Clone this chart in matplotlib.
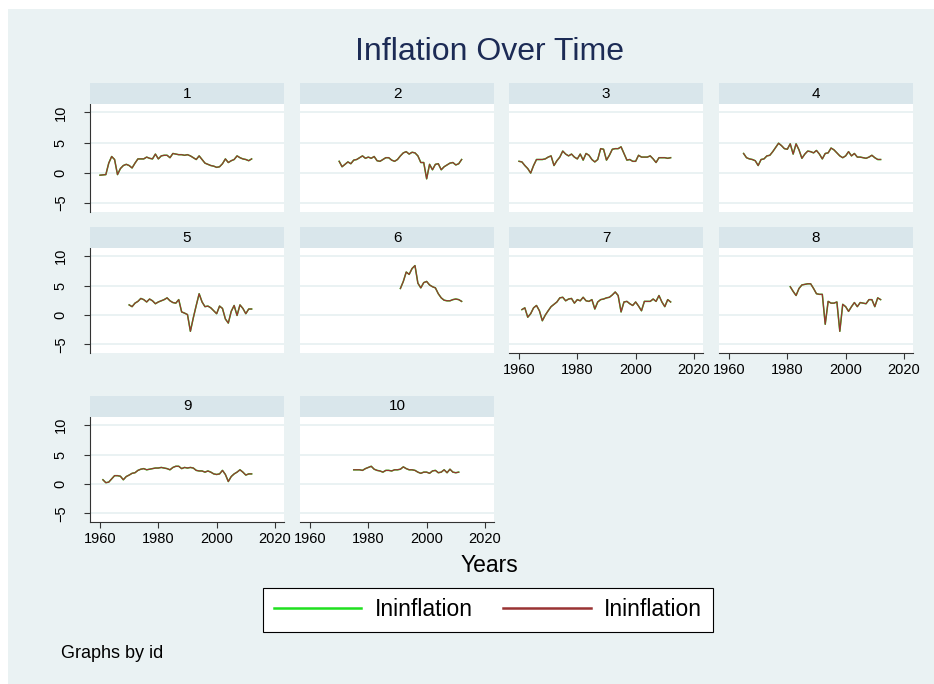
import numpy as np
import matplotlib.pyplot as plt
from matplotlib.patches import Rectangle
from matplotlib.lines import Line2D

plt.rcParams['font.family'] = ['Liberation Sans', 'DejaVu Sans']

# 每个 id 的起始年份（年份连续）
start_years = [1960, 1970, 1960, 1965, 1970, 1991, 1961, 1981, 1961, 1975]

infl_1 = [-0.4, -0.35, -0.3, 1.6, 2.7, 2.2, -0.3, 0.7, 1.2, 1.4,
          1.2, 0.8, 1.6, 2.3, 2.3, 2.3, 2.6, 2.4, 2.3, 3.1,
          2.3, 2.8, 2.9, 2.9, 2.5, 3.2, 3.1, 3.0, 3.0, 2.9,
          3.0, 2.8, 2.5, 2.2, 2.8, 2.2, 1.6, 1.4, 1.2, 1.1,
          0.9, 1.0, 1.5, 2.3, 1.7, 2.0, 2.2, 2.8, 2.5, 2.3,
          2.2, 2.0, 2.3]
infl_2 = [1.9, 1.0, 1.4, 1.8, 1.5, 2.1, 2.2, 2.5, 2.8, 2.4,
          2.6, 2.4, 2.7, 2.0, 1.9, 2.2, 2.5, 2.5, 2.1, 1.9,
          2.2, 2.8, 3.3, 3.5, 3.1, 3.4, 3.3, 2.8, 1.7, 1.7,
          -1.0, 1.4, 0.5, 1.4, 1.5, 0.5, 1.0, 1.3, 1.6, 1.7,
          1.3, 1.5, 2.2]
infl_3 = [1.9, 1.8, 1.2, 0.7, -0.05, 1.2, 2.2, 2.2, 2.2, 2.3,
          2.6, 2.8, 1.2, 2.0, 2.6, 3.6, 3.1, 2.8, 3.1, 2.6,
          2.3, 3.1, 2.1, 3.2, 2.9, 2.2, 1.8, 2.2, 4.0, 3.9,
          2.1, 2.9, 3.9, 4.0, 4.0, 4.3, 3.2, 2.1, 2.2, 1.9,
          1.9, 2.9, 2.6, 2.6, 2.6, 2.8, 2.3, 1.7, 2.5, 2.5,
          2.5, 2.4, 2.5]
infl_4 = [3.2, 2.5, 2.3, 2.2, 2.0,
          1.2, 2.2, 2.3, 2.8, 2.9, 3.5, 4.2, 4.9, 4.5, 4.0,
          3.9, 4.8, 3.1, 4.8, 3.8, 2.4, 3.1, 3.6, 3.5, 3.3,
          3.7, 3.1, 2.3, 3.2, 3.3, 4.1, 3.8, 3.3, 2.8, 2.5,
          2.8, 3.5, 2.8, 3.2, 2.6, 2.6, 2.5, 2.4, 2.6, 2.9,
          2.5, 2.2, 2.2]
infl_5 = [1.7, 1.4, 2.0, 2.3, 2.8, 2.6, 2.2, 2.7, 2.4, 1.9,
          2.2, 2.4, 2.6, 2.9, 2.4, 2.1, 2.0, 2.6, 0.5, 0.3,
          0.05, -2.8, -0.5, 1.6, 3.6, 2.2, 1.4, 1.5, 1.2, 0.7,
          0.2, 1.5, 1.1, -0.7, -1.4, 0.6, 1.6, -0.1, 1.7, 1.1,
          0.2, 1.0, 1.0]
infl_6 = [4.5, 5.7, 7.3, 6.9, 7.9, 8.4, 5.4, 4.6, 5.5, 5.7,
          5.1, 4.8, 4.6, 3.6, 2.9, 2.5, 2.4, 2.4, 2.6, 2.7,
          2.6, 2.3]
infl_7 = [0.9, 1.2, -0.4, 0.2, 1.2, 1.6, 0.7, -1.0, -0.05,
          0.7, 1.4, 1.8, 2.2, 2.9, 3.0, 2.4, 2.7, 2.8, 2.0,
          2.6, 2.4, 3.0, 2.4, 2.3, 2.6, 1.0, 2.2, 2.6, 2.7,
          2.9, 3.0, 3.4, 3.9, 3.3, 0.5, 2.2, 2.3, 1.9, 1.6,
          2.2, 1.5, 0.7, 2.3, 2.3, 2.3, 2.7, 2.3, 3.3, 2.2,
          1.4, 2.6, 2.2]
infl_8 = [4.8, 4.0, 3.3, 4.5, 5.1, 5.2, 5.3, 5.3, 4.5,
          3.6, 3.5, 3.5, -1.6, 2.3, 2.0, 2.0, 2.2, -2.8, 1.8,
          1.4, 0.6, 1.4, 2.1, 1.4, 2.1, 2.0, 1.9, 2.6, 2.6,
          1.4, 2.9, 2.6]
infl_9 = [0.7, 0.2, 0.3, 0.85, 1.4, 1.4, 1.3, 0.7, 1.25,
          1.5, 1.8, 1.9, 2.3, 2.5, 2.6, 2.4, 2.5, 2.6, 2.7,
          2.7, 2.8, 2.7, 2.6, 2.4, 2.8, 3.0, 3.0, 2.6, 2.8,
          2.7, 2.8, 2.7, 2.3, 2.2, 2.2, 2.0, 2.2, 2.0, 1.7,
          1.6, 1.7, 2.3, 1.6, 0.4, 1.25, 1.7, 2.0, 2.4, 2.0,
          1.5, 1.7, 1.7]
infl_10 = [2.4, 2.4, 2.4, 2.3, 2.6,
           2.8, 3.0, 2.5, 2.3, 2.2, 2.0, 2.3, 2.3, 2.2, 2.4,
           2.4, 2.5, 2.9, 2.6, 2.4, 2.4, 2.3, 2.0, 1.8, 2.0,
           2.0, 1.8, 2.2, 2.3, 1.9, 2.0, 2.4, 1.9, 2.5, 2.0,
           1.9, 2.0]

series = [infl_1, infl_2, infl_3, infl_4, infl_5,
          infl_6, infl_7, infl_8, infl_9, infl_10]

x_ticks = [1960, 1980, 2000, 2020]
y_ticks = [-5, 0, 5, 10]

bg = '#EAF2F3'
strip_color = '#D9E6EB'
green = '#1FE01F'
maroon = '#993333'

W, H = 934, 684
fig = plt.figure(figsize=(W / 100, H / 100), dpi=100, facecolor='white')
fig.patches.append(Rectangle((8 / W, 0), 1 - 8 / W, 1 - 9 / H,
                             transform=fig.transFigure, facecolor=bg,
                             edgecolor='none', zorder=-10))

# 面板像素位置
col_left = [90, 300, 509, 719]
panel_w = 194
rows = [(104, 212), (248, 353), (417, 522)]
strip_h = 21

def px_rect(x0, y0, x1, y1):
    return [x0 / W, 1 - y1 / H, (x1 - x0) / W, (y1 - y0) / H]

for i, vals in enumerate(series):
    r, c = divmod(i, 4)
    x0 = col_left[c]
    top, bot = rows[r]
    ax = fig.add_axes(px_rect(x0, top, x0 + panel_w, bot))
    sax = fig.add_axes(px_rect(x0, top - strip_h, x0 + panel_w, top))
    sax.set_facecolor(strip_color)
    sax.set_xticks([]); sax.set_yticks([])
    for s in sax.spines.values():
        s.set_visible(False)
    sax.text(0.5, 0.5, str(i + 1), ha='center', va='center', fontsize=11,
             transform=sax.transAxes)

    years = np.arange(start_years[i], start_years[i] + len(vals))
    ax.plot(years, vals, color=green, lw=1.1, zorder=3)
    ax.plot(years, vals, color=maroon, lw=0.9, zorder=4)

    ax.set_facecolor('white')
    ax.set_xlim(1956.57, 2023.1)
    ax.set_ylim(-6.5, 11.4)
    ax.set_xticks(x_ticks)
    ax.set_yticks(y_ticks)
    ax.yaxis.grid(True, color=bg, lw=1.4)
    ax.set_axisbelow(True)
    for s in ax.spines.values():
        s.set_visible(False)

    show_y = (c == 0)
    show_x = i >= 6
    if show_y:
        ax.spines['left'].set_visible(True)
        ax.spines['left'].set_color('#333333')
        ax.spines['left'].set_linewidth(0.8)
        ax.tick_params(axis='y', length=4, width=0.8, color='#333333',
                       pad=12, labelsize=10.5, labelrotation=90)
        for lab in ax.get_yticklabels():
            lab.set_va('center')
    else:
        ax.tick_params(axis='y', length=0, labelleft=False)
    if show_x:
        ax.spines['bottom'].set_visible(True)
        ax.spines['bottom'].set_color('#333333')
        ax.spines['bottom'].set_linewidth(0.8)
        ax.tick_params(axis='x', length=4, width=0.8, color='#333333',
                       pad=3, labelsize=10.5)
    else:
        ax.tick_params(axis='x', length=0, labelbottom=False)

fig.text(489.5 / W, 1 - 52 / H, 'Inflation Over Time', ha='center',
         va='center', fontsize=23, color='#1C2B55')
fig.text(489 / W, 1 - 566 / H, 'Years', ha='center', va='center',
         fontsize=16.5)
fig.text(61 / W, 1 - 654 / H, 'Graphs by id', ha='left', va='center',
         fontsize=13)

handles = [Line2D([], [], color=green, lw=1.8),
           Line2D([], [], color=maroon, lw=1.8)]
leg = fig.legend(handles, ['Ininflation', 'Ininflation'], ncol=2,
                 loc='center', bbox_to_anchor=(488 / W, 1 - 610 / H),
                 fontsize=16.5, frameon=True, fancybox=False,
                 edgecolor='black', facecolor='white', framealpha=1,
                 handlelength=3.8, handletextpad=0.6, columnspacing=1.35,
                 borderpad=0.45)
leg.get_frame().set_linewidth(0.8)

fig.savefig('out.png', dpi=100, facecolor=fig.get_facecolor())
